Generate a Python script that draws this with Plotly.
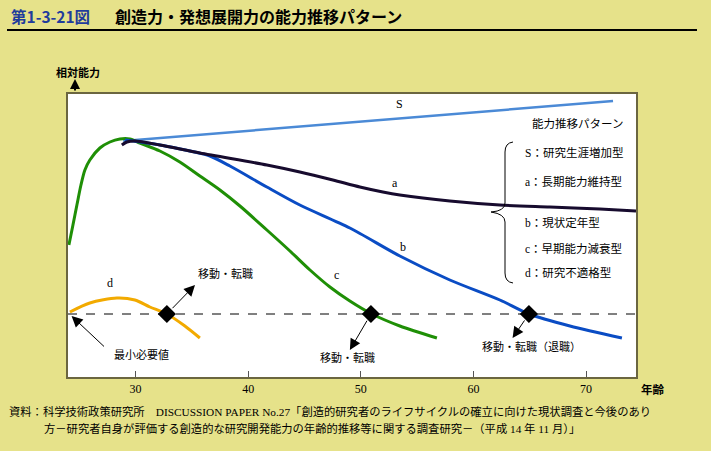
import plotly.graph_objects as go

W, H = 711, 451

# ---------------- data (age in years, relative ability in arbitrary units) ----------------
s_age = [28.9, 72.4]
s_val = [236, 276]

a_age = [28.78, 29.23, 29.94, 32.16, 35.71, 41.66, 44.59, 47.52, 49.92, 51.96, 53.47, 57.91, 62.35, 66.79, 71.23, 74.44]
a_val = [232, 235, 236, 232, 224, 212, 205, 197, 190, 185, 182, 176, 172, 170, 168, 166]

b_age = [29.06, 32.16, 34.83, 36.6, 38.38, 41.66, 44.59, 49.03, 53.47, 57.91, 62.35, 64.93, 68.57, 73.19]
b_val = [237, 232, 226, 221, 211, 190, 172, 149, 121, 97, 77, 63, 51, 39]

c_age = [24.08, 24.44, 24.79, 25.15, 25.5, 25.94, 26.83, 27.72, 28.61, 29.49, 30.38, 32.16, 33.93, 35.71,
         37.49, 39.27, 41.66, 43.71, 45.49, 47.26, 49.03, 50.99, 53.47, 56.76]
c_val = [132, 152, 172, 192, 207, 217, 229, 235, 238, 238, 234, 226, 215, 201,
         187, 171, 147, 126, 107, 90, 76, 63, 51, 39]

d_age = [24.17, 25.94, 28.34, 29.94, 31.27, 32.78, 34.38, 35.71]
d_val = [65, 74, 79, 77, 70, 63, 51, 39]

min_val = 63                      # 最小必要値
move_age = [32.78, 50.9, 64.93]   # 移動・転職 points
x_ticks = [30, 40, 50, 60, 70]
x_range = [24.0, 74.44]
y_range = [0, 283]

legend_lines = ["S：研究生涯増加型", "a：長期能力維持型", "b：現状定年型", "c：早期能力減衰型", "d：研究不適格型"]

# ---------------- helpers ----------------
def px(x):
    return x / W

def py(y):
    return 1 - y / H

CJK = "Noto Sans CJK JP"
SERIF = "Liberation Serif, Noto Sans CJK JP"

fig = go.Figure()

def curve(x, y, color, width=3):
    fig.add_trace(go.Scatter(x=x, y=y, mode="lines",
                             line=dict(color=color, width=width, shape="spline", smoothing=0.8),
                             hoverinfo="skip", showlegend=False))

curve(s_age, s_val, "#4b8ad6", 2.5)
curve(c_age, c_val, "#1f8f06", 3)
curve(b_age, b_val, "#0a4cc4", 3)
curve(a_age, a_val, "#170b2e", 3)
curve(d_age, d_val, "#f2aa00", 3)

fig.add_hline(y=min_val, line=dict(color="black", width=1, dash="dash"))

fig.add_trace(go.Scatter(x=move_age, y=[min_val] * 3, mode="markers",
                         marker=dict(symbol="diamond", size=14, color="black"),
                         hoverinfo="skip", showlegend=False))

# arrows (head, tail) in data coords
arrows = [
    ((35.28, 92), (move_age[0], min_val)),
    ((49.03, 27), (move_age[1], min_val)),
    ((63.48, 39), (move_age[2], min_val)),
    ((24.32, 61), (27.72, 25)),
]
for (hx, hy), (tx, ty) in arrows:
    fig.add_annotation(x=hx, y=hy, ax=tx, ay=ty, xref="x", yref="y", axref="x", ayref="y",
                       showarrow=True, arrowhead=2, arrowsize=2.2, arrowwidth=1,
                       arrowcolor="black", text="", startstandoff=6)

def label(x, y, text, size=11.5, font=CJK, xref="x", yref="y", xanchor="center", color="black"):
    fig.add_annotation(x=x, y=y, xref=xref, yref=yref, text=text, showarrow=False,
                       xanchor=xanchor, yanchor="middle",
                       font=dict(family=font, size=size, color=color))

# curve letters
label(53.47, 273, "S", 12, SERIF)
label(53.03, 194, "a", 12, SERIF)
label(53.74, 130, "b", 12, SERIF)
label(47.88, 102, "c", 12, SERIF)
label(27.72, 94, "d", 12, SERIF)

label(37.95, 104, "移動・転職", 11)
label(48.86, 20, "移動・転職", 11)
label(65.2, 31, "移動・転職（退職）", 11)
label(30.5, 23, "最小必要値", 11)

# legend block (paper coords)
label(px(577), py(123), "能力推移パターン", 11.5, CJK, "paper", "paper")
for txt, yy in zip(legend_lines, [152, 181, 223, 248, 272]):
    label(px(523), py(yy), txt, 11.5, SERIF, "paper", "paper", "left")

# brace
def P(x, y):
    return f"{px(x):.5f},{py(y):.5f}"
brace = ("M " + P(513, 142) + " Q " + P(505, 143) + " " + P(505, 152) +
         " L " + P(505, 203) + " Q " + P(505, 211) + " " + P(491, 212) +
         " Q " + P(505, 214) + " " + P(505, 222) +
         " L " + P(505, 273) + " Q " + P(505, 282) + " " + P(513, 283))
fig.add_shape(type="path", path=brace, xref="paper", yref="paper",
              line=dict(color="black", width=1))

# axis labels
label(px(78), py(72), "<b>相対能力</b>", 11, CJK, "paper", "paper")
fig.add_annotation(x=px(75), y=py(79), ax=0, ay=13, xref="paper", yref="paper",
                   showarrow=True, arrowhead=2, arrowsize=1, arrowwidth=2, arrowcolor="black", text="")
label(px(653), py(389), "<b>年齢</b>", 11.5, CJK, "paper", "paper")

# title
label(px(9), py(16), "<b>第1-3-21図</b>", 15.5, "Noto Sans CJK JP", "paper", "paper", "left", "#1f3c9c")
label(px(113), py(16), "<b>創造力・発想展開力の能力推移パターン</b>", 16, CJK, "paper", "paper", "left")
fig.add_shape(type="line", x0=px(7), x1=px(697), y0=py(30), y1=py(30), xref="paper", yref="paper",
              line=dict(color="black", width=2))

# footnote
label(px(7), py(411), "資料：科学技術政策研究所　DISCUSSION PAPER No.27「創造的研究者のライフサイクルの確立に向けた現状調査と今後のあり",
      11.3, SERIF, "paper", "paper", "left")
label(px(42), py(428), "方－研究者自身が評価する創造的な研究開発能力の年齢的推移等に関する調査研究－（平成 14 年 11 月）」",
      11.3, SERIF, "paper", "paper", "left")

fig.update_layout(
    width=W, height=H,
    margin=dict(l=0, r=0, t=0, b=0),
    paper_bgcolor="#e6e28a",
    plot_bgcolor="white",
    showlegend=False,
    xaxis=dict(domain=[px(68), px(636)], range=x_range, tickvals=x_ticks,
               ticks="inside", ticklen=6, tickcolor="#555", showgrid=False, zeroline=False,
               showline=True, mirror=True, linecolor="#6b6640", linewidth=1.5,
               tickfont=dict(family=SERIF, size=12, color="black")),
    yaxis=dict(domain=[py(377), py(94)], range=y_range, showticklabels=False, ticks="",
               showgrid=False, zeroline=False, showline=True, mirror=True,
               linecolor="#6b6640", linewidth=1.5),
)

fig.write_html("out.html", config={"displayModeBar": False},
               post_script="document.body.style.margin='0';document.body.style.background='#e6e28a';")
